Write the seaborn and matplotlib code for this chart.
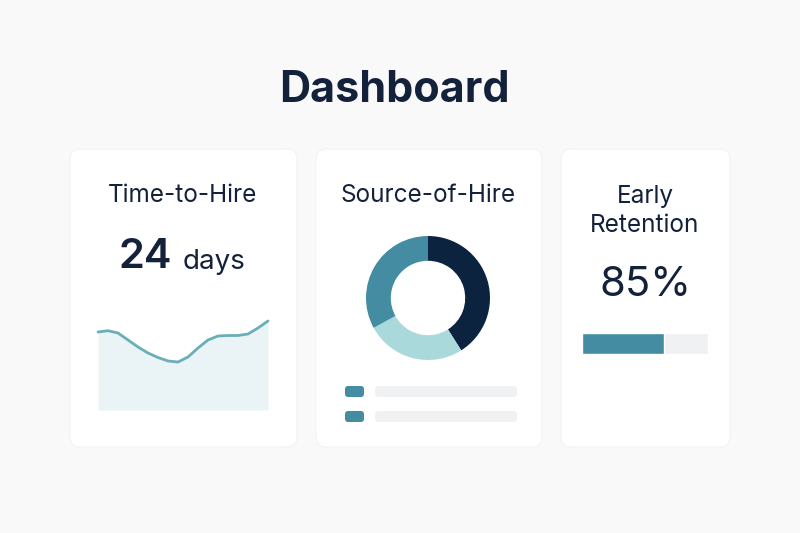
import matplotlib
matplotlib.use("Agg")
import matplotlib.pyplot as plt
import seaborn as sns
import pandas as pd
from matplotlib.patches import FancyBboxPatch

sns.set_style("white")
plt.rcParams['font.family'] = ['Inter', 'DejaVu Sans']

# data
title = "Dashboard"
card_titles = ["Time-to-Hire", "Source-of-Hire", "Early\nRetention"]
hire_days = 24
hire_trend = [78, 79.3, 77, 70, 63, 57, 52.5, 49, 48, 53, 62, 70, 74, 74.5, 74.5, 76, 82, 89]
source_shares = [41, 26, 33]
retention_pct = 85
retention_bar = 65

navy = "#13223a"
teal = "#438ca2"
line_c = "#6aaeb8"
fill_c = "#eaf4f6"
track_c = "#f0f1f3"
source_colors = ["#0c2340", "#a9d9db", "#438ca2"]

fig = plt.figure(figsize=(8, 5.33), dpi=100)
fig.patch.set_facecolor("#f9f9f9")

bg = fig.add_axes([0, 0, 1, 1])
bg.set_xlim(0, 800)
bg.set_ylim(533, 0)
bg.axis("off")


def px(x, y, w, h):
    return [x / 800, 1 - (y + h) / 533, w / 800, h / 533]


# cards
for x0, w in [(70, 227), (316, 226), (561, 169)]:
    bg.add_patch(FancyBboxPatch((x0, 149), w, 298,
                                boxstyle="round,pad=0,rounding_size=10",
                                fc="white", ec="#f2f2f2", lw=0.8))

bg.text(394, 90, title, ha="center", va="center", fontsize=31,
        fontweight="bold", color=navy)

bg.text(183, 196, card_titles[0], ha="center", va="center", fontsize=17.5, color=navy)
bg.text(428, 196, card_titles[1], ha="center", va="center", fontsize=17.5, color=navy)
bg.text(645, 211, card_titles[2], ha="center", va="center", fontsize=17.5,
        color=navy, linespacing=1.37)

bg.text(172, 257, str(hire_days), ha="right", va="center", fontsize=30,
        fontweight="semibold", color=navy)
bg.text(183, 262, "days", ha="left", va="center", fontsize=20, color=navy)
bg.text(645, 285, f"{retention_pct}%", ha="center", va="center", fontsize=30,
        color=navy)

# legend placeholders under donut
for y0 in [386, 411]:
    bg.add_patch(FancyBboxPatch((345, y0), 19, 11,
                                boxstyle="round,pad=0,rounding_size=3",
                                fc=teal, ec="none"))
    bg.add_patch(FancyBboxPatch((375, y0), 142, 11,
                                boxstyle="round,pad=0,rounding_size=4",
                                fc=track_c, ec="none"))

# area sparkline
ax1 = fig.add_axes(px(98, 320, 170, 90))
df = pd.DataFrame({"t": range(len(hire_trend)), "days": hire_trend})
ax1.fill_between(df["t"], df["days"], 0, color=fill_c, lw=0)
sns.lineplot(data=df, x="t", y="days", ax=ax1, color=line_c, lw=2,
             solid_joinstyle="round", solid_capstyle="round")
ax1.set_xlim(0, len(hire_trend) - 1)
ax1.set_ylim(0, 90)
ax1.axis("off")
for a in [ax1]:
    for ln in a.lines:
        ln.set_clip_on(False)

# donut
ax2 = fig.add_axes(px(366, 236, 124, 124))
ax2.pie(source_shares, colors=source_colors, startangle=90, counterclock=False,
        radius=1, wedgeprops=dict(width=0.4, edgecolor="none"))
ax2.set_xlim(-1, 1)
ax2.set_ylim(-1, 1)
ax2.axis("off")

# progress bar
ax3 = fig.add_axes(px(582, 333, 126, 21))
ax3.barh([0], [100], color=track_c, height=1)
ax3.barh([0], [retention_bar], color=teal, height=1)
ax3.set_xlim(0, 100)
ax3.set_ylim(-0.5, 0.5)
ax3.axis("off")

fig.savefig("out.png", dpi=100, facecolor=fig.get_facecolor())
